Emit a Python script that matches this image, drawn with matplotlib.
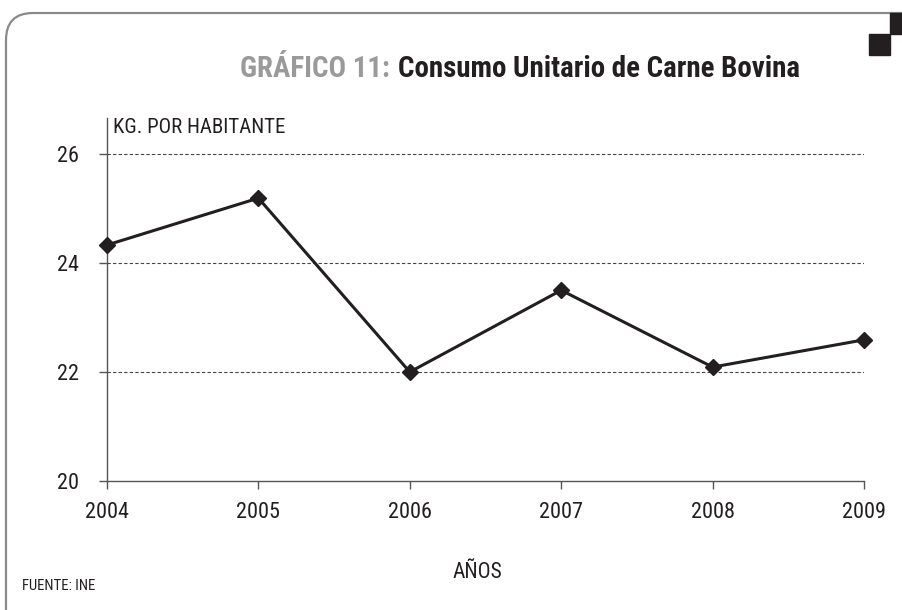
import matplotlib.pyplot as plt
from matplotlib import font_manager
from matplotlib.patches import FancyBboxPatch, Rectangle

years = [2004, 2005, 2006, 2007, 2008, 2009]
consumo = [24.33, 25.19, 22.0, 23.5, 22.09, 22.59]
y_ticks = [20, 22, 24, 26]

W, H = 903, 610
fig = plt.figure(figsize=(W / 100, H / 100), dpi=100)

# pick a narrow font if one is installed
installed = {f.name for f in font_manager.fontManager.ttflist}
narrow_name = 'Liberation Sans'
for name in ['Liberation Sans Narrow', 'Roboto Condensed', 'DejaVu Sans Condensed',
             'Open Sans Condensed', 'Noto Sans Condensed']:
    if name in installed:
        narrow_name = name
        break
narrow = [narrow_name, 'DejaVu Sans']


def text_width(txt):
    r = fig.canvas.get_renderer()
    return txt.get_window_extent(renderer=r).width


frame = FancyBboxPatch((6 / W, -0.2), 1.5, (H - 13) / H + 0.2,
                       boxstyle='round,pad=0,rounding_size=0.03',
                       transform=fig.transFigure, fill=False,
                       edgecolor='#8a8a8a', lw=1.6, mutation_aspect=W / H)
fig.patches.append(frame)
fig.patches.append(Rectangle((890 / W, 1 - 34 / H), 14 / W, 21 / H,
                             transform=fig.transFigure, color='#231f20'))
fig.patches.append(Rectangle((869 / W, 1 - 55 / H), 21 / W, 21 / H,
                             transform=fig.transFigure, color='#231f20'))

# title in two colours, one size, centred on x=520
t1 = fig.text(0, 1 - 69 / H, 'GRÁFICO 11:', ha='left', va='center',
              fontsize=20, fontweight='bold', color='#9a9a9a', family=narrow)
t2 = fig.text(0, 1 - 69 / H, 'Consumo Unitario de Carne Bovina', ha='left',
              va='center', fontsize=20, fontweight='bold', color='#231f20',
              family=narrow)
target = 560
size = 20 * (target - 8) / (text_width(t1) + text_width(t2))
t1.set_fontsize(size)
t2.set_fontsize(size)
gap = 8
total = text_width(t1) + gap + text_width(t2)
x0 = 520 - total / 2
t1.set_x(x0 / W)
t2.set_x((x0 + text_width(t1) + gap) / W)

ax = fig.add_axes([107 / W, 1 - 481 / H, (864 - 107) / W, (481 - 118) / H])
ax.plot(years, consumo, color='#231f20', lw=2.2, marker='D', markersize=8.5,
        markerfacecolor='#231f20', markeredgecolor='#231f20', clip_on=False,
        zorder=3)

ax.set_xlim(2004, 2009)
ax.set_ylim(20, 26.66)
ax.set_yticks(y_ticks)
ax.set_xticks(years)
for y in y_ticks[1:]:
    ax.axhline(y, color='#444444', lw=0.8, ls=(0, (3, 2)), zorder=1)

for s in ['top', 'right']:
    ax.spines[s].set_visible(False)
for s in ['left', 'bottom']:
    ax.spines[s].set_color('#555555')
    ax.spines[s].set_linewidth(1.0)
ax.tick_params(axis='both', colors='#555555', labelcolor='#231f20',
               labelsize=16, length=6, width=1.0)
ax.tick_params(axis='y', pad=14)
ax.tick_params(axis='x', pad=9)
for lbl in ax.get_xticklabels() + ax.get_yticklabels():
    lbl.set_family(narrow)

ax.text(0.008, 1.0, 'KG. POR HABITANTE', transform=ax.transAxes, ha='left',
        va='top', fontsize=15, color='#231f20', family=narrow)
fig.text(477 / W, 1 - 573 / H, 'AÑOS', ha='center', va='center',
         fontsize=15.5, color='#231f20', family=narrow)
fte = fig.text(22 / W, 1 - 586 / H, 'FUENTE: INE', ha='left', va='center',
               fontsize=8.5, color='#231f20', family=narrow)
fte.set_fontsize(8.5 * 73 / text_width(fte))

fig.savefig('out.png', dpi=100)
